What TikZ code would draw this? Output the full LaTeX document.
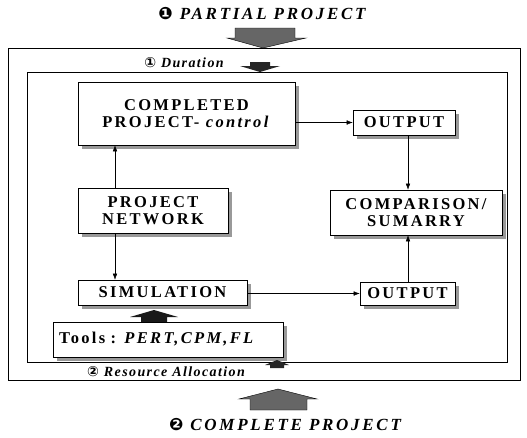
\documentclass[tikz,border=0pt]{standalone}
\usepackage{fontspec}
\setmainfont{Liberation Serif}
\newfontfamily\circfont{DejaVu Sans}
\usetikzlibrary{arrows.meta}
\newcommand\boxfont{\fontsize{16.5}{17}\selectfont\bfseries\addfontfeature{LetterSpace=14}}
\newcommand\lblfont{\fontsize{14}{15}\selectfont\bfseries\itshape\addfontfeature{LetterSpace=10}}
\newcommand\ttlfont{\fontsize{17}{18}\selectfont\bfseries\itshape\addfontfeature{LetterSpace=16}}
\begin{document}
\begin{tikzpicture}[x=1pt,y=-1pt,
	blok/.style={draw,fill=white,line width=.6pt,font=\boxfont,align=center,inner sep=0pt},
	shadowbox/.style={fill=black!40},
	lbl/.style={font=\lblfont,inner sep=0pt},
	ttl/.style={font=\ttlfont,inner sep=0pt},
	>={Latex[length=6pt,width=4.5pt]}]
	\useasboundingbox (0,0) rectangle (527,437);
	% frames
	\draw[line width=.6pt] (8,48) rectangle (520,380);
	\draw[line width=.6pt] (27,72) rectangle (507,362);
	% shadows, behind the boxes
	\fill[shadowbox] (82,86) rectangle (299,149);
	\fill[shadowbox] (357,114) rectangle (459,139);
	\fill[shadowbox] (82,192) rectangle (232,237);
	\fill[shadowbox] (334,194) rectangle (506,239);
	\fill[shadowbox] (82,284) rectangle (251,309);
	\fill[shadowbox] (364,286) rectangle (459,309);
	\fill[shadowbox] (57,326) rectangle (287,361);
	% titles
	\node[ttl] (partial) at (262,14) {{\circfont\char"2776}\ PARTIAL PROJECT};
	\node[ttl] (complete) at (285,425) {{\circfont\char"2777}\ COMPLETE PROJECT};
	\node[lbl] (dur) at (184,63) {{\circfont\char"2460}\ Duration};
	\node[lbl] (res) at (166,372) {{\circfont\char"2461}\ Resource Allocation};
	% block arrows
	\filldraw[fill=black!60,line width=.4pt] (235,28) -- (295,28) -- (295,38) -- (306,38)
		-- (263,48) -- (227,38) -- (235,38) -- cycle;
	\filldraw[fill=black!60,line width=.4pt] (250,410) -- (307,410) -- (307,399) -- (317,399)
		-- (278,389) -- (239,399) -- (250,399) -- cycle;
	\fill[black!85] (250,62) -- (270,62) -- (270,66) -- (280,66) -- (260,72) -- (240,66) -- (250,66) -- cycle;
	\fill[black!85] (270,368) -- (284,368) -- (284,365) -- (289,365) -- (277,360) -- (265,365) -- (270,365) -- cycle;
	\fill[black!90] (141,322) -- (167,322) -- (167,317) -- (178,317) -- (154,310) -- (130,317) -- (141,317) -- cycle;
	% boxes
	\node[blok,minimum width=217,minimum height=63] (comp) at (186.5,113.5) {COMPLETED\\PROJECT- \textit{control}};
	\node[blok,minimum width=102,minimum height=25] (outA) at (404,122.5) {OUTPUT};
	\node[blok,minimum width=150,minimum height=45] (net) at (153,210.5) {PROJECT\\NETWORK};
	\node[blok,minimum width=172,minimum height=45] (summ) at (416,212.5) {COMPARISON/\\SUMARRY};
	\node[blok,minimum width=169,minimum height=25] (sim) at (162.5,292.5) {SIMULATION};
	\node[blok,minimum width=95,minimum height=23] (outB) at (407.5,293.5) {OUTPUT};
	\node[blok,minimum height=35,text width=218,inner xsep=6,align=left] (tools) at (168,339.5)
		{Tools : \textit{PERT,CPM,FL}};
	% connectors
	\coordinate (colL) at (115,0);
	\coordinate (colR) at (408,0);
	\draw[->] (outA.west -| comp.east) -- (outA.west);
	\draw[->] (colR |- outA.south) -- (colR |- summ.north);
	\draw[->] (colL |- net.north) -- (colL |- comp.south);
	\draw[->] (colL |- net.south) -- (colL |- sim.north);
	\draw[->] (outB.west -| sim.east) -- (outB.west);
	\draw[->] (colR |- outB.north) -- (colR |- summ.south);
\end{tikzpicture}
\end{document}
